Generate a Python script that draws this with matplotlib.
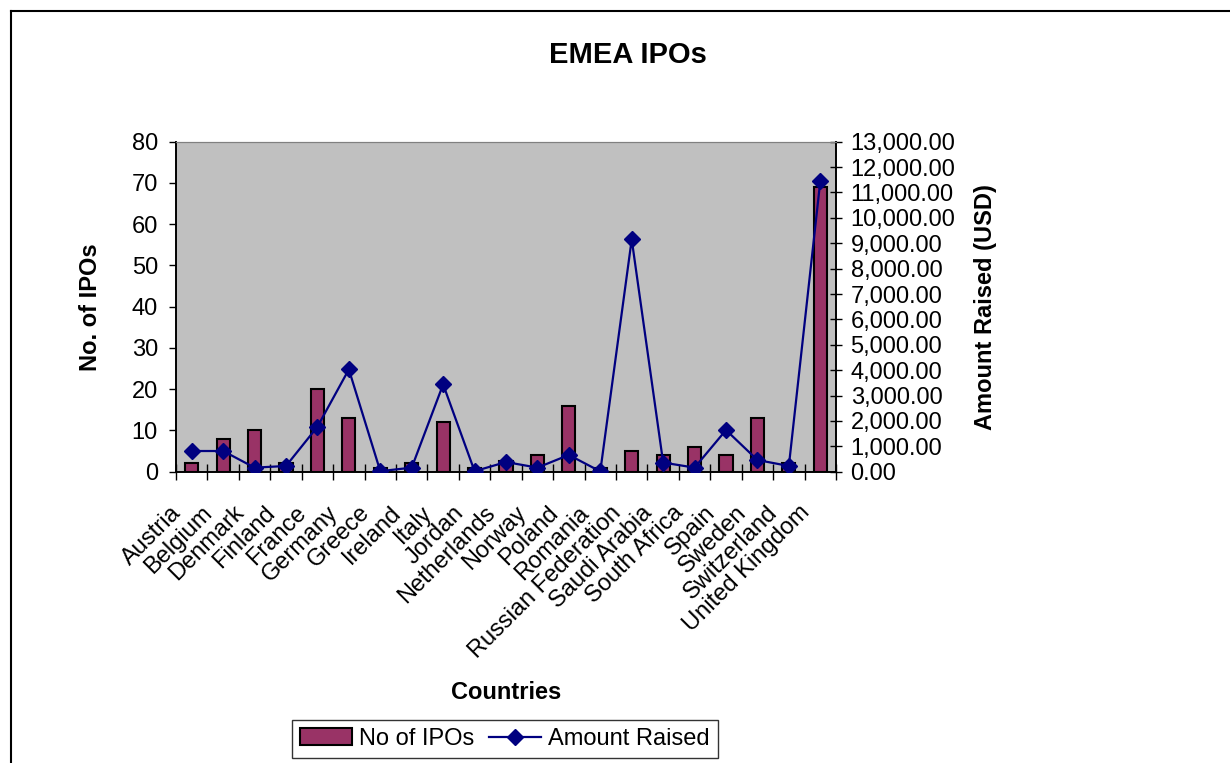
import matplotlib
matplotlib.use("Agg")
import matplotlib.pyplot as plt
from matplotlib.lines import Line2D
from matplotlib.ticker import FuncFormatter, MultipleLocator, FixedLocator, NullFormatter
from matplotlib.transforms import ScaledTranslation, blended_transform_factory
import numpy as np

plt.rcParams['font.family'] = ['Liberation Sans', 'DejaVu Sans']

countries = ["Austria", "Belgium", "Denmark", "Finland", "France", "Germany",
             "Greece", "Ireland", "Italy", "Jordan", "Netherlands", "Norway",
             "Poland", "Romania", "Russian Federation", "Saudi Arabia",
             "South Africa", "Spain", "Sweden", "Switzerland", "United Kingdom"]
no_ipos = [2, 8, 10, 2, 20, 13, 1, 2, 12, 1, 2.5, 4, 16, 1, 5, 4, 6, 4, 13, 2, 69]
amount_raised = [815, 815, 160, 225, 1770, 4030, 20, 160, 3440, 20, 380, 160,
                 660, 10, 9150, 360, 160, 1640, 460, 225, 11450]

fig = plt.figure(figsize=(12.3, 7.63), dpi=100)
ax = fig.add_axes([176 / 1230, 1 - 471.7 / 763, 660 / 1230, 330 / 763])
ax2 = ax.twinx()

x = np.arange(len(countries))
ax.set_facecolor('#c0c0c0')
ax.bar(x, no_ipos, width=0.42, color='#993366', edgecolor='black',
       linewidth=1.5, zorder=2, label='No of IPOs')
ax2.plot(x, amount_raised, color='#000080', lw=1.6, marker='D', ms=8,
         zorder=3, label='Amount Raised')

ax.set_xlim(-0.5, len(countries) - 0.5)
ax.set_ylim(0, 80)
ax.yaxis.set_major_locator(MultipleLocator(10))
ax2.set_ylim(0, 13000)
ax2.yaxis.set_major_locator(MultipleLocator(1000))
ax2.yaxis.set_major_formatter(FuncFormatter(lambda v, p: "{:,.2f}".format(v)))

# category labels: rotated, sitting down-left of each category centre
ax.set_xticks(x)
ax.xaxis.set_major_formatter(NullFormatter())
trans = blended_transform_factory(ax.transData, ax.transAxes) + \
    ScaledTranslation(-0.22, -0.30, fig.dpi_scale_trans)
for xi, name in zip(x, countries):
    ax.text(xi, 0, name, transform=trans, rotation=45, ha='right', va='top',
            rotation_mode='anchor', fontsize=17, clip_on=False)

ax.xaxis.set_minor_locator(FixedLocator(np.arange(len(countries) + 1) - 0.5))
ax.tick_params(axis='x', which='major', length=0)
ax.tick_params(axis='x', which='minor', length=11, direction='inout', width=1)
ax.tick_params(axis='y', length=5, direction='out', labelsize=17, pad=8, width=1)
ax2.tick_params(axis='y', length=9, direction='inout', labelsize=17, pad=6, width=1)

for a in (ax, ax2):
    a.spines['top'].set_color('#808080')
    a.spines['left'].set_linewidth(1.2)
    a.spines['right'].set_linewidth(1.2)
    a.spines['bottom'].set_linewidth(1.2)

ax.set_ylabel("No. of IPOs", fontsize=17, fontweight='bold', labelpad=21)
ax2.set_ylabel("Amount Raised (USD)", fontsize=17, fontweight='bold', labelpad=13)
ax.set_xlabel("Countries", fontsize=17, fontweight='bold')
ax.xaxis.set_label_coords(0.5, -0.635)

fig.text(628 / 1230, 1 - 55 / 763, "EMEA IPOs", fontsize=21, fontweight='bold',
         ha='center', va='center')

h1, l1 = ax.get_legend_handles_labels()
h2, l2 = ax2.get_legend_handles_labels()
leg = fig.legend(h1 + h2, l1 + l2, loc='center', ncol=2,
                 bbox_to_anchor=(505 / 1230, 1 - 739 / 763), fontsize=17,
                 frameon=True, fancybox=False, edgecolor='black',
                 handlelength=2.2, handletextpad=0.3, columnspacing=0.6,
                 borderpad=0.35)
leg.get_frame().set_linewidth(1)

# outer chart border (only top and left visible in the reference)
fig.add_artist(Line2D([11 / 1230, 11 / 1230], [0, 1 - 11 / 763],
                      transform=fig.transFigure, color='black', lw=1.5))
fig.add_artist(Line2D([11 / 1230, 1], [1 - 11 / 763, 1 - 11 / 763],
                      transform=fig.transFigure, color='black', lw=1.5))

fig.savefig("out.png", dpi=100)
